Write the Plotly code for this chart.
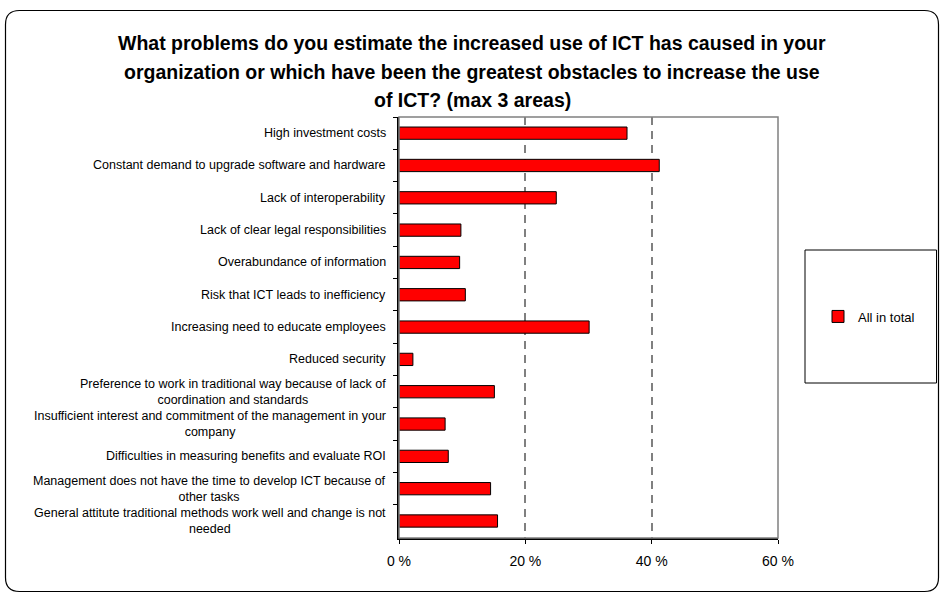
import plotly.graph_objects as go

categories = [
    "High investment costs",
    "Constant demand to upgrade software and hardware",
    "Lack of interoperability",
    "Lack of clear legal responsibilities",
    "Overabundance of information",
    "Risk that ICT leads to inefficiency",
    "Increasing need to educate employees",
    "Reduced security",
    "Preference to work in traditional way because of lack of<br>coordination and standards",
    "Insufficient interest and commitment of the management in your<br>company",
    "Difficulties in measuring benefits and evaluate ROI",
    "Management does not have the time to develop ICT because of<br>other tasks",
    "General attitute traditional methods work well and change is not<br>needed",
]
values = [36.1, 41.2, 24.9, 9.8, 9.6, 10.5, 30.1, 2.2, 15.1, 7.3, 7.8, 14.5, 15.6]
series_name = "All in total"
x_tickvals = [0, 20, 40, 60]
x_ticktext = ["0 %", "20 %", "40 %", "60 %"]
title_lines = [
    "What problems do you estimate the increased use of ICT has caused in your",
    "organization or which have been the greatest obstacles to increase the use",
    "of ICT? (max 3 areas)",
]

FONT = "Liberation Sans, Arial, sans-serif"
W, H = 944, 597
L, R, T, B = 399, 778, 117, 538  # plot area pixels


def px(xp):
    return (xp - L) / (R - L)


def py(yp):
    return (B - yp) / (B - T)


fig = go.Figure()
fig.add_trace(go.Bar(
    y=categories, x=values, orientation="h", name=series_name,
    marker=dict(color="#FF0000", line=dict(color="#000000", width=1)),
    width=0.38, showlegend=True,
))

shapes = []
# plot area border (gray)
shapes.append(dict(type="rect", xref="paper", yref="paper", x0=0, x1=1, y0=0, y1=1,
                   line=dict(color="#808080", width=1.5), layer="above"))
# legend box
shapes.append(dict(type="rect", xref="paper", yref="paper",
                   x0=px(805), x1=px(936.5), y0=py(383), y1=py(250),
                   line=dict(color="#000000", width=1), fillcolor="rgba(0,0,0,0)"))
# outer rounded border
x0, x1, y0, y1, r = 5.5, 938.5, 10.5, 591.5, 14
path = (f"M {px(x0 + r)},{py(y0)} L {px(x1 - r)},{py(y0)} "
        f"Q {px(x1)},{py(y0)} {px(x1)},{py(y0 + r)} "
        f"L {px(x1)},{py(y1 - r)} Q {px(x1)},{py(y1)} {px(x1 - r)},{py(y1)} "
        f"L {px(x0 + r)},{py(y1)} Q {px(x0)},{py(y1)} {px(x0)},{py(y1 - r)} "
        f"L {px(x0)},{py(y0 + r)} Q {px(x0)},{py(y0)} {px(x0 + r)},{py(y0)} Z")
shapes.append(dict(type="path", xref="paper", yref="paper", path=path,
                   line=dict(color="#000000", width=1.2)))

annotations = []
title_y = [43, 72, 100]
for line, ty in zip(title_lines, title_y):
    annotations.append(dict(
        text=f"<b>{line}</b>", xref="paper", yref="paper",
        x=px(472), y=py(ty), xanchor="center", yanchor="middle",
        showarrow=False, font=dict(family=FONT, size=19.5, color="#000000")))

# category labels (right-aligned block, centered lines)
for i, cat in enumerate(categories):
    annotations.append(dict(
        text=cat, xref="paper", yref="y", x=px(388), y=i,
        xanchor="right", yanchor="middle", align="center", showarrow=False,
        font=dict(family=FONT, size=12.5, color="#000000")))

fig.update_layout(
    width=W, height=H,
    margin=dict(l=L, r=W - R, t=T, b=H - B),
    paper_bgcolor="#FFFFFF", plot_bgcolor="#FFFFFF",
    font=dict(family=FONT, color="#000000"),
    shapes=shapes, annotations=annotations,
    legend=dict(x=px(818), y=py(316.5), xanchor="left", yanchor="middle",
                xref="paper", yref="paper",
                font=dict(family=FONT, size=13, color="#000000"),
                bgcolor="rgba(0,0,0,0)", borderwidth=0,
                itemwidth=30),
    xaxis=dict(range=[0, 60], tickvals=x_tickvals, ticktext=x_ticktext,
               showgrid=True, gridcolor="#808080", gridwidth=1.5,
               griddash="8px,6px", zeroline=False,
               showline=True, linecolor="#000000", linewidth=1.5,
               ticks="outside", ticklen=4, tickcolor="#000000",
               tickfont=dict(family=FONT, size=14, color="#000000"),
               ticklabelstandoff=5, fixedrange=True),
    yaxis=dict(autorange="reversed", showgrid=False, zeroline=False,
               showline=True, linecolor="#000000", linewidth=1.5,
               ticks="outside", ticklen=4, tickcolor="#000000",
               tickson="boundaries", showticklabels=False,
               fixedrange=True),
)

fig.write_html("out.html", config={"displayModeBar": False},
               post_script="document.body.style.margin='0px';")
